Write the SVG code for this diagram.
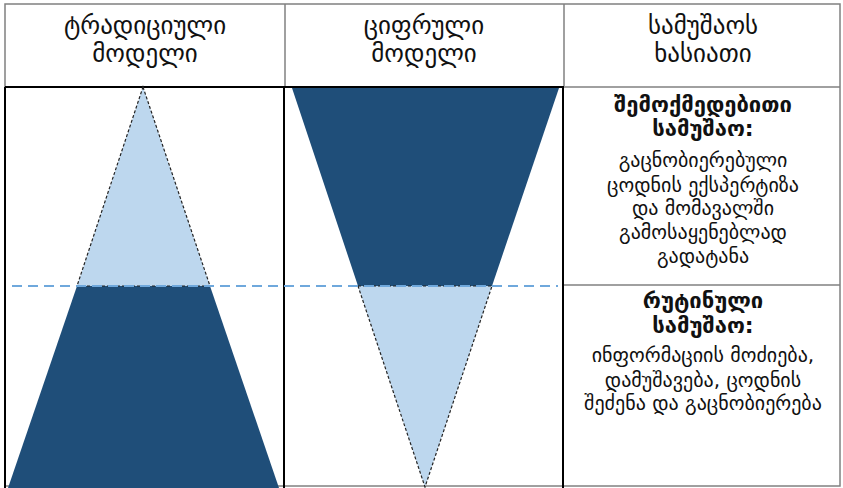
<svg xmlns="http://www.w3.org/2000/svg" width="843" height="488" viewBox="0 0 843 488">
<style>
.t{font-family:"DejaVu Sans",sans-serif;font-size:20px;fill:#111;text-anchor:middle}
.h{font-size:25px}
.b{font-weight:bold;font-size:22px}
.hd{stroke:#808080;stroke-width:1.5;fill:none}
.bd{stroke:#000;stroke-width:2;fill:none}
.dark{fill:#1f4e79}
.light{fill:#bdd7ee;stroke:#222;stroke-width:1.2;stroke-dasharray:3 2}
</style>
<rect width="843" height="488" fill="#fff"/>
<g id="table">
<rect class="hd" x="5" y="4" width="835" height="482"/>
<line class="hd" x1="285" y1="4" x2="285" y2="86"/>
<line class="hd" x1="564" y1="4" x2="564" y2="86"/>
<line class="bd" x1="5" y1="87" x2="564" y2="87"/>
<line class="hd" x1="564" y1="87" x2="840" y2="87"/>
<line class="bd" x1="5" y1="87" x2="5" y2="488"/>
<line class="bd" x1="284" y1="87" x2="284" y2="488"/>
<line class="bd" x1="563" y1="87" x2="563" y2="488"/>
<line class="hd" x1="564" y1="285" x2="840" y2="285"/>
</g>
<g id="traditional">
<polygon class="dark" points="77,286 210,286 279,488 8,488"/>
<polygon class="light" points="143,87 210,286 77,286"/>
</g>
<g id="digital">
<polygon class="dark" points="292,88 559,88 492,286 358,286"/>
<polygon class="light" points="358,286 492,286 425,487"/>
</g>
<g id="connectors">
<line x1="12" y1="286" x2="558" y2="286" stroke="#6fa8dc" stroke-width="2" stroke-dasharray="10 6"/>
</g>
<g id="headers">
<text class="t h" x="145" y="34">ტრადიციული</text>
<text class="t h" x="145" y="62">მოდელი</text>
<text class="t h" x="424" y="34">ციფრული</text>
<text class="t h" x="424" y="62">მოდელი</text>
<text class="t h" x="703" y="34">სამუშაოს</text>
<text class="t h" x="703" y="62">ხასიათი</text>
</g>
<g id="creative">
<text class="t b" x="703" y="112">შემოქმედებითი</text>
<text class="t b" x="703" y="136">სამუშაო:</text>
<text class="t" x="703" y="167">გაცნობიერებული</text>
<text class="t" x="703" y="192">ცოდნის ექსპერტიზა</text>
<text class="t" x="703" y="215">და მომავალში</text>
<text class="t" x="703" y="239">გამოსაყენებლად</text>
<text class="t" x="703" y="263">გადატანა</text>
</g>
<g id="routine">
<text class="t b" x="703" y="308">რუტინული</text>
<text class="t b" x="703" y="333">სამუშაო:</text>
<text class="t" x="703" y="362">ინფორმაციის მოძიება,</text>
<text class="t" x="703" y="387">დამუშავება, ცოდნის</text>
<text class="t" x="703" y="410">შეძენა და გაცნობიერება</text>
</g>
</svg>
